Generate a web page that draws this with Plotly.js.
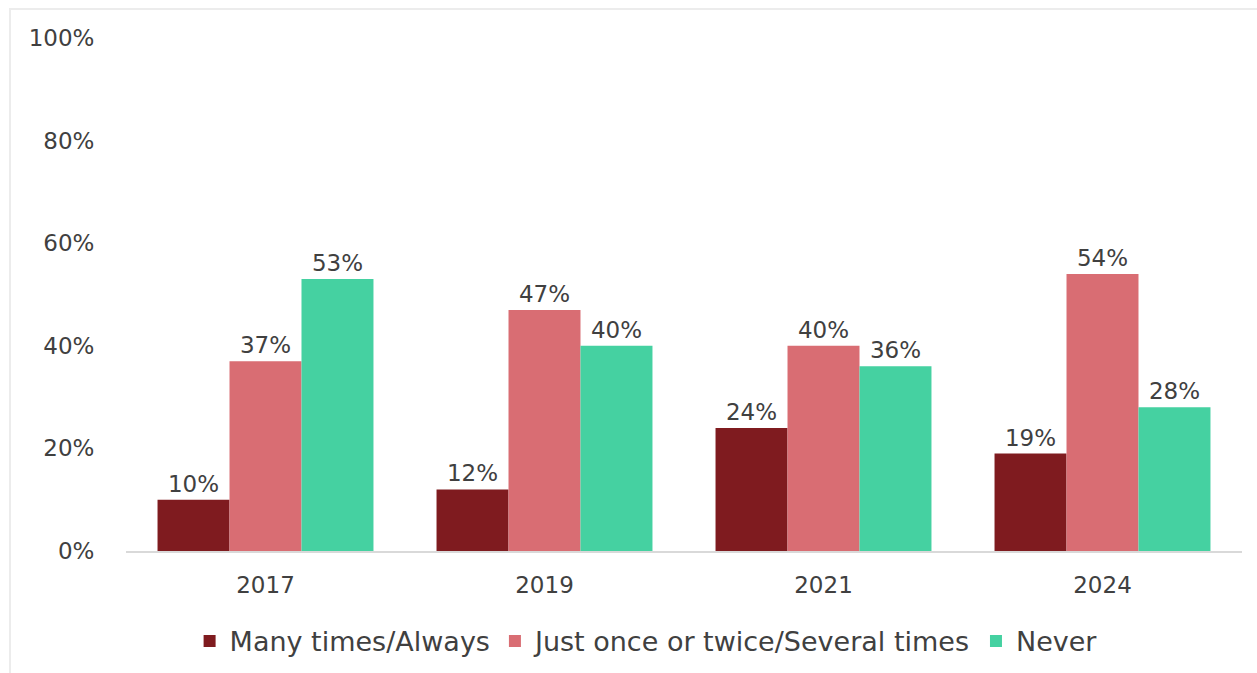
<!DOCTYPE html>
<html>
<head>
<meta charset="utf-8">
<script src="https://cdn.plot.ly/plotly-3.0.1.min.js"></script>
<style>
  html, body { margin: 0; padding: 0; background: #fff; }
  #wrap { position: relative; width: 1257px; height: 673px; overflow: hidden; }
  #frame { position: absolute; left: 9px; top: 8px; width: 1400px; height: 800px;
           border-top: 2px solid #ececec; border-left: 2px solid #ececec; pointer-events: none; }
  #chart { position: absolute; left: 0; top: 0; width: 1257px; height: 673px; }
</style>
</head>
<body>
<div id="wrap">
  <div id="chart"></div>
  <div id="frame"></div>
</div>
<script>
const years = ['2017', '2019', '2021', '2024'];
const manyTimes = [0.10, 0.12, 0.24, 0.19];
const justOnce = [0.37, 0.47, 0.40, 0.54];
const never = [0.53, 0.40, 0.36, 0.28];
const seriesNames = ['Many times/Always', 'Just once or twice/Several times', 'Never'];
const seriesColors = ['#7f1b1f', '#d96d73', '#45d1a1'];
const yTicks = [0, 0.2, 0.4, 0.6, 0.8, 1.0];
const yTickLabels = ['0%', '20%', '40%', '60%', '80%', '100%'];

const font = "'DejaVu Sans', sans-serif";
const series = [manyTimes, justOnce, never];
const traces = series.map((vals, i) => ({
  type: 'bar',
  name: seriesNames[i],
  x: years,
  y: vals,
  marker: { color: seriesColors[i], line: { width: 0 } },
  text: vals.map(v => Math.round(v * 100) + '%'),
  texttemplate: '%{text}',
  textposition: 'outside',
  cliponaxis: false,
  textfont: { family: font, size: 23, color: '#404040' },
  hoverinfo: 'x+y+name'
}));

const layout = {
  width: 1257,
  height: 673,
  margin: { l: 126, r: 15, t: 38, b: 122 },
  paper_bgcolor: 'rgba(0,0,0,0)',
  plot_bgcolor: 'rgba(0,0,0,0)',
  barmode: 'group',
  bargap: 0.226,
  bargroupgap: 0,
  font: { family: font, color: '#404040' },
  xaxis: {
    type: 'category',
    showgrid: false,
    showline: true,
    linecolor: '#d9d9d9',
    linewidth: 2,
    zeroline: false,
    ticks: 'outside',
    ticklen: 12,
    tickcolor: 'rgba(0,0,0,0)',
    tickfont: { family: font, size: 23, color: '#404040' }
  },
  yaxis: {
    range: [0, 1],
    tickvals: yTicks,
    ticktext: yTickLabels,
    showgrid: false,
    zeroline: false,
    showline: false,
    ticks: 'outside',
    ticklen: 26,
    tickcolor: 'rgba(0,0,0,0)',
    tickfont: { family: font, size: 23, color: '#404040' }
  },
  legend: {
    orientation: 'h',
    xref: 'container',
    yref: 'container',
    x: 0.514,
    xanchor: 'center',
    y: 0.047,
    yanchor: 'middle',
    font: { family: font, size: 27, color: '#404040' },
    itemwidth: 30,
    traceorder: 'normal'
  },
  showlegend: true
};

Plotly.newPlot('chart', traces, layout, { displayModeBar: false, staticPlot: true });
</script>
</body>
</html>
